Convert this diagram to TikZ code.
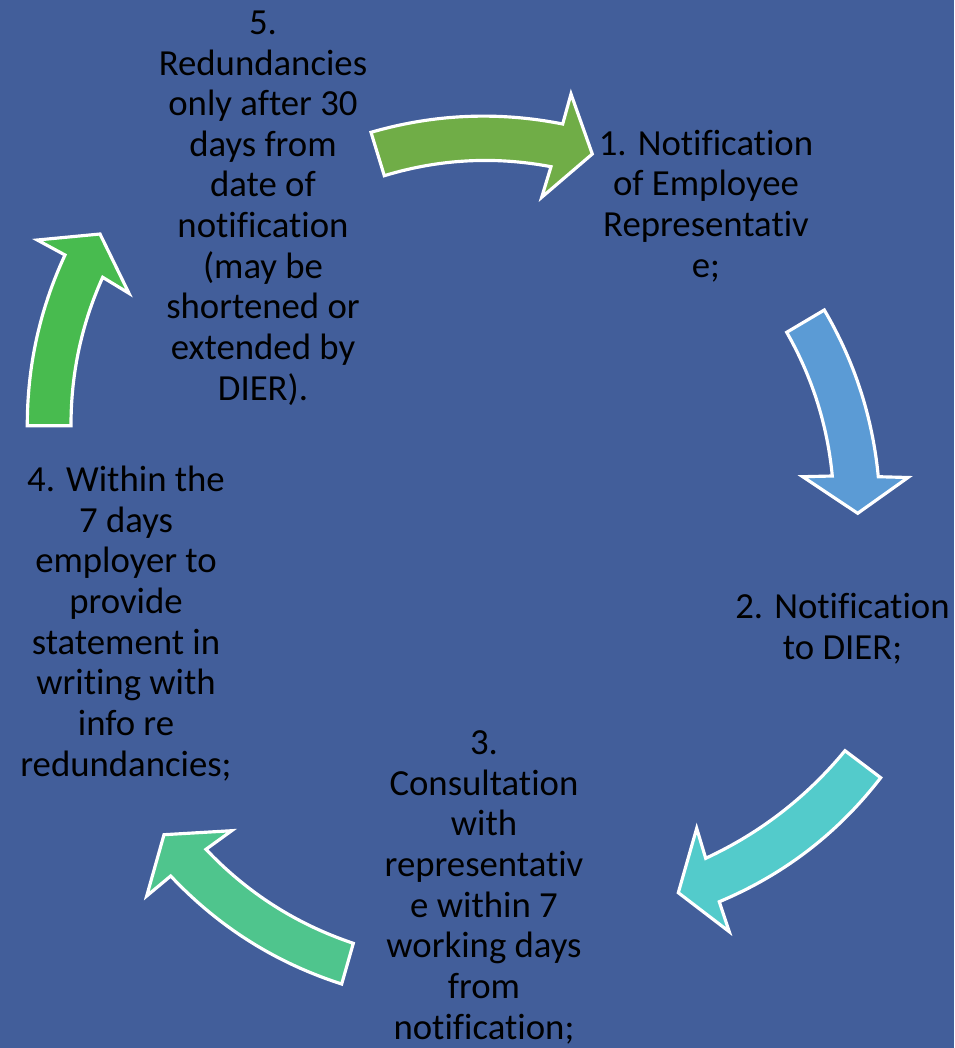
\documentclass[tikz,border=0pt]{standalone}
\usepackage{fontspec}
\setmainfont{Carlito}[Ligatures=NoCommon]
\usepackage{tikz}
\usetikzlibrary{calc}
\definecolor{hgblau}{RGB}{66,94,154}
\definecolor{pfeilA}{RGB}{112,173,71}
\definecolor{pfeilB}{RGB}{91,155,213}
\definecolor{pfeilC}{RGB}{83,203,203}
\definecolor{pfeilD}{RGB}{79,197,141}
\definecolor{pfeilE}{RGB}{72,187,79}

\begin{document}
\begin{tikzpicture}[x=0.01cm,y=-0.01cm,
  pfeil/.style={draw=white,line width=0.9pt,line join=miter},
  schritt/.style={align=center,inner sep=0pt,anchor=base,text=black,
    font=\fontsize{10.45pt}{11.55pt}\selectfont}]
%Koordinaten in Pixeln (y nach unten), 1px = 0.01cm
\fill[hgblau] (0,0) rectangle (954,1048);
\useasboundingbox (0,0) rectangle (954,1048);
%Pfeile: Aussenbogen, Spitze, Innenbogen zurueck
\draw[pfeil,fill=pfeilA] (371,132.3) .. controls (434.2,114.0) and (498.1,111.2) .. (562.7,124) -- (571,94) -- (592.3,154) -- (541.7,197.3) -- (551,166.7) .. controls (494.7,156.0) and (439.1,159.0) .. (384.3,175.7) -- cycle;
\draw[pfeil,fill=pfeilB] (824.3,310) .. controls (854.6,361.6) and (872.6,417.2) .. (878.3,476.7) -- (908,477.5) -- (857.7,513.3) -- (802.7,476.7) -- (832.3,476) .. controls (827.4,424.9) and (812.2,377.0) .. (786.7,332.3) -- cycle;
\draw[pfeil,fill=pfeilC] (880.7,777.7) .. controls (837.8,833.3) and (784.0,874.6) .. (719.3,901.7) -- (729.3,931.7) -- (678.3,892.7) -- (696.7,828.3) -- (705.7,858.3) .. controls (760.3,833.0) and (806.7,797.1) .. (845,750.7) -- cycle;
\draw[pfeil,fill=pfeilD] (341.7,984) .. controls (275.4,962.7) and (218.4,926.7) .. (170.7,876) -- (146.7,896) -- (164,834.7) -- (231.7,830.7) -- (206,849.3) .. controls (247.3,892.9) and (296.4,924.2) .. (353.3,943.3) -- cycle;
\draw[pfeil,fill=pfeilE] (27.3,425.7) .. controls (27.2,366.0) and (39.8,309.1) .. (65,255) -- (37.3,240) -- (100,234) -- (129,293.3) -- (102.7,277.3) .. controls (81.4,324.5) and (70.9,374.0) .. (71,425.7) -- cycle;
%Texte, Grundlinie der letzten Zeile
\node[schritt] (schritt1) at (706,277) {1. Notification\\of Employee\\Representativ\\e;};
\node[schritt] (schritt2) at (842.5,659) {2. Notification\\to DIER;};
\node[schritt] (schritt3) at (484,1039) {3.\\Consultation\\with\\representativ\\e within 7\\working days\\from\\notification;};
\node[schritt] (schritt4) at (126,776) {4. Within the\\7 days\\employer to\\provide\\statement in\\writing with\\info re\\redundancies;};
\node[schritt] (schritt5) at (263,400) {5.\\Redundancies\\only after 30\\days from\\date of\\notification\\(may be\\shortened or\\extended by\\DIER).};
\end{tikzpicture}
\end{document}
